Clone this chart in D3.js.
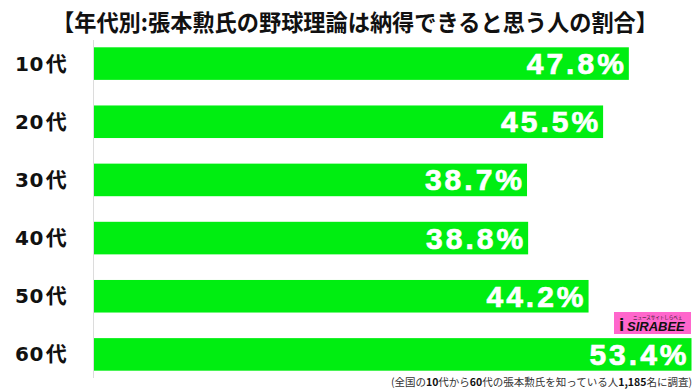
<!DOCTYPE html>
<html><head><meta charset="utf-8">
<script src="https://cdn.jsdelivr.net/npm/d3@7"></script>
<style>body{margin:0;background:#fff}svg{display:block}</style>
</head><body>
<svg id="c" width="700" height="392"></svg>
<script>
const categories = ["10代","20代","30代","40代","50代","60代"];
const values = [47.8, 45.5, 38.7, 38.8, 44.2, 53.4];
const title = "【年代別:張本勲氏の野球理論は納得できると思う人の割合】";

const svg = d3.select("#c");
const x = d3.scaleLinear().domain([0, 53.4]).range([94, 691.5]);
const y = d3.scaleBand().domain(categories).range([34.5, 383.5]).paddingInner(0.44).paddingOuter(0.22);

svg.append("text").attr("x", 355).attr("y", 31).attr("text-anchor","middle")
  .attr("font-family","'Noto Sans CJK JP'").attr("font-weight","bold").attr("font-size",23)
  .attr("textLength",606).attr("lengthAdjust","spacingAndGlyphs")
  .attr("fill","#111").text(title);

svg.append("line").attr("x1",93.5).attr("x2",93.5).attr("y1",40).attr("y2",378)
  .attr("stroke","#dcdcdc").attr("stroke-width",1);

svg.selectAll("rect.bar").data(values).join("rect").attr("class","bar")
  .attr("x", x(0)).attr("y",(d,i)=>y(categories[i]))
  .attr("width", d=>x(d)-x(0)).attr("height", y.bandwidth())
  .attr("fill","#00ee11");

svg.selectAll("text.val").data(values).join("text").attr("class","val")
  .attr("x", d=>x(d)-2).attr("y",(d,i)=>y(categories[i])+y.bandwidth()/2+10.5)
  .attr("text-anchor","end").attr("fill","#fff").attr("stroke","#fff").attr("stroke-width",0.7)
  .attr("font-family","'Liberation Sans', Arial").attr("font-weight","bold").attr("font-size",30)
  .attr("letter-spacing","3px")
  .text(d=>d.toFixed(1)+"%");

const cat = svg.selectAll("text.cat").data(categories).join("text").attr("class","cat")
  .attr("x", 15).attr("y", d=>y(d)+y.bandwidth()/2+7)
  .attr("fill","#111").attr("font-weight","bold");
cat.append("tspan").attr("font-family","'DejaVu Sans'").attr("font-size",20).attr("letter-spacing","0.5px").text(d=>d.slice(0,-1));
cat.append("tspan").attr("font-family","'Noto Sans CJK JP'").attr("font-size",21).attr("dx",2).text(d=>d.slice(-1));

// logo
const lg = svg.append("g");
lg.append("rect").attr("x",614).attr("y",312).attr("width",77).attr("height",22).attr("fill","#ff66cc");
lg.append("text").attr("x",627).attr("y",331).attr("font-family","'Liberation Sans'").attr("font-weight","bold")
  .attr("font-style","italic").attr("font-size",13).attr("fill","#111").text("SIRABEE");
lg.append("text").attr("x",619).attr("y",331).attr("font-family","'Liberation Sans'").attr("font-weight","bold")
  .attr("font-size",19).attr("fill","#111").text("i");
lg.append("text").attr("x",633).attr("y",318.5).attr("font-family","'Noto Sans CJK JP'")
  .attr("font-size",4.5).attr("fill","#111").text("ニュースサイトしらべぇ");

const foot = svg.append("text").attr("x",692).attr("y",386).attr("text-anchor","end")
  .attr("font-family","'Noto Sans CJK JP'").attr("font-size",10.5).attr("fill","#333");
[["(全国の",0],["10",1],["代から",0],["60",1],["代の張本勲氏を知っている人",0],["1,185",1],["名に調査)",0]]
  .forEach(([t,b])=>foot.append("tspan").attr("font-weight",b?"bold":"normal").attr("fill",b?"#111":"#333").text(t));
</script>
</body></html>
